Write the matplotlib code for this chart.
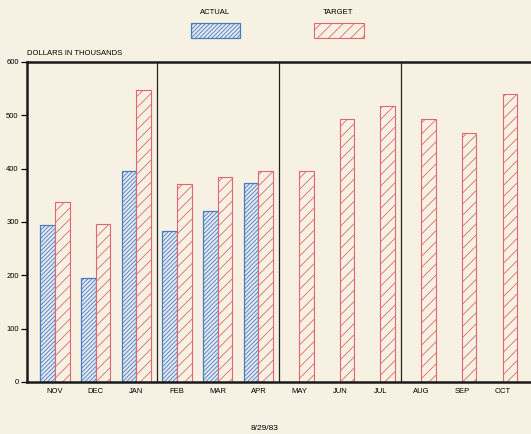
import numpy as np
import matplotlib
matplotlib.use('Agg')
import matplotlib.pyplot as plt
from matplotlib.patches import Rectangle

months = ['NOV', 'DEC', 'JAN', 'FEB', 'MAR', 'APR',
          'MAY', 'JUN', 'JUL', 'AUG', 'SEP', 'OCT']
actual = [295, 195, 395, 284, 320, 373]
target = [337, 297, 547, 371, 385, 395, 395, 494, 518, 493, 467, 540]
yticks = [0, 100, 200, 300, 400, 500, 600]

bg = '#f6f1e3'
blue = '#4a7cc0'
red = '#e2666e'
blue_hatch = '////////'
red_hatch = '///'

plt.rcParams['font.family'] = ['Liberation Sans', 'DejaVu Sans']
plt.rcParams['hatch.linewidth'] = 0.6

fig = plt.figure(figsize=(5.31, 4.34), dpi=100, facecolor=bg)
ax = fig.add_axes([27 / 531, 1 - 382 / 434, 1 - 27 / 531, 320 / 434])
ax.set_facecolor(bg)

w = 0.36
x = np.arange(len(months))
ax.bar(x[:len(actual)] - w / 2, actual, width=w, facecolor='#e3e8ee',
       edgecolor=blue, hatch=blue_hatch, linewidth=0.9)
ax.bar(x + w / 2, target, width=w, facecolor=bg,
       edgecolor=red, hatch=red_hatch, linewidth=0.8)

for sep in [2.5, 5.5, 8.5]:
    ax.axvline(sep, color='#222222', lw=0.9)

ax.set_xlim(-0.69, 11.7)
ax.set_ylim(0, 600)
ax.set_xticks(x)
ax.set_xticklabels(months, fontsize=5.5)
ax.set_yticks(yticks)
ax.set_yticklabels([str(v) for v in yticks], fontsize=5.5)
ax.tick_params(axis='x', length=0, pad=4)
ax.tick_params(axis='y', length=4, width=0.9, pad=2)
ax.spines['right'].set_visible(False)
for s in ['left', 'bottom', 'top']:
    ax.spines[s].set_linewidth(1.8)
    ax.spines[s].set_color('#1a1a1a')

fig.text(27 / 531, 1 - 57 / 434, 'DOLLARS IN THOUSANDS', fontsize=5.5,
         ha='left', va='bottom')

# legend
fig.text(215 / 531, 1 - 13 / 434, 'ACTUAL', fontsize=5.5, ha='center', va='center')
fig.text(338 / 531, 1 - 13 / 434, 'TARGET', fontsize=5.5, ha='center', va='center')
fig.patches.append(Rectangle((191 / 531, 1 - 38 / 434), 49 / 531, 15 / 434,
                             transform=fig.transFigure, facecolor='#e3e8ee',
                             edgecolor=blue, hatch=blue_hatch, linewidth=0.9))
fig.patches.append(Rectangle((314 / 531, 1 - 38 / 434), 50 / 531, 15 / 434,
                             transform=fig.transFigure, facecolor=bg,
                             edgecolor=red, hatch=red_hatch, linewidth=0.8))

fig.text(265 / 531, 1 - 428 / 434, '8/29/83', fontsize=6, ha='center', va='center')

fig.savefig('out.png', dpi=100, facecolor=bg)
